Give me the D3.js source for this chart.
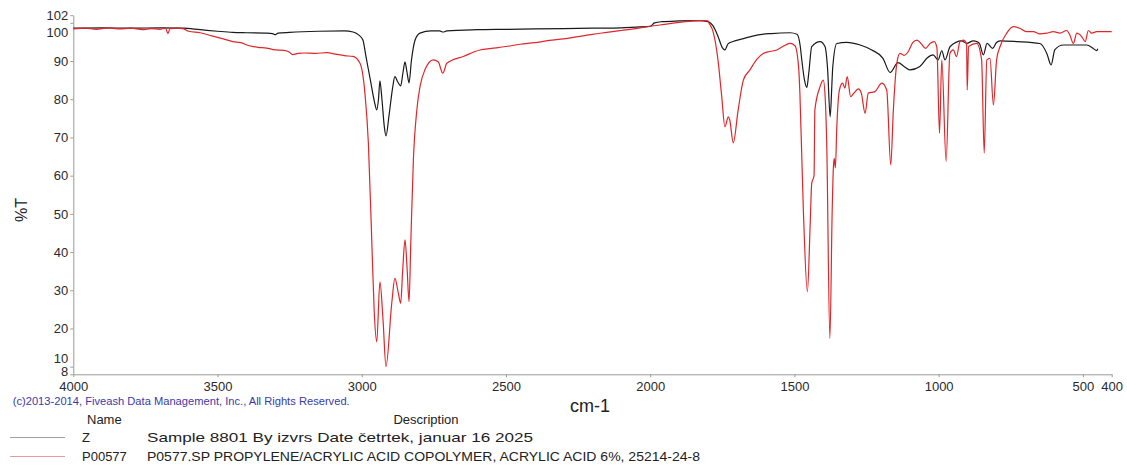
<!DOCTYPE html>
<html>
<head>
<meta charset="utf-8">
<script src="https://cdn.jsdelivr.net/npm/d3@7"></script>
<style>
  html, body { margin: 0; padding: 0; background: #fff; }
  svg { display: block; font-family: "Liberation Sans", Arial, sans-serif; }
</style>
</head>
<body>
<svg id="chart" width="1127" height="469"></svg>
<script>
// ---- data ----
const xTicks = [4000, 3500, 3000, 2500, 2000, 1500, 1000, 500, 400];
const yTicks = [102, 100, 90, 80, 70, 60, 50, 40, 30, 20, 10, 8];

const seriesNames = ["Z", "P00577"];
const seriesDescriptions = [
  "Sample 8801 By izvrs Date četrtek, januar 16 2025",
  "P0577.SP PROPYLENE/ACRYLIC ACID COPOLYMER, ACRYLIC ACID 6%, 25214-24-8"
];
const copyrightText = "(c)2013-2014, Fiveash Data Management, Inc., All Rights Reserved.";

// Z (sample) spectrum: wavenumber (cm-1) and %T
const zWavenumber = [4000, 3900, 3800, 3700, 3620, 3560, 3500, 3447, 3400, 3330, 3310, 3301, 3290, 3250, 3150, 3060, 3030, 3010,
  2996, 2985, 2970, 2955, 2948, 2942, 2937, 2930, 2922, 2916, 2905, 2893, 2885, 2875, 2865, 2857, 2850, 2843, 2836, 2828, 2815, 2798,
  2760, 2730, 2718, 2705, 2600, 2500, 2400, 2300, 2200, 2100, 2050, 2000, 1985, 1960, 1900, 1830, 1800, 1782, 1765, 1750, 1741, 1730,
  1713, 1680, 1630, 1580, 1515, 1491, 1480, 1474, 1465, 1457, 1450, 1440, 1411, 1394, 1385, 1376, 1370, 1367, 1353, 1319, 1272, 1232,
  1193, 1168, 1141, 1120, 1100, 1065, 1040, 1019, 1002, 989, 978, 960, 920, 903, 880, 868, 858, 845, 832, 813, 800, 787, 729, 649,
  625, 610, 597, 568, 533, 487, 464, 452, 448];
const zTransmittance = [98.6, 98.7, 98.6, 98.7, 98.6, 98.2, 97.8, 97.5, 97.4, 97.3, 97.2, 96.9, 97.3, 97.5, 97.8, 97.9, 97.6, 96.8,
  95.5, 91, 85, 79, 77.2, 80, 84.8, 80, 73, 70.4, 76, 83, 85.9, 84.5, 83.5, 87, 89.8, 87, 84.3, 90, 95.5, 97.3,
  97.9, 97.9, 97.6, 97.9, 98.2, 98.3, 98.4, 98.5, 98.6, 98.7, 98.9, 99.1, 100.0, 100.3, 100.5, 100.6, 100.3, 99.2, 96.5, 93.5, 92.9, 94.5,
  95.1, 95.8, 96.8, 97.2, 97.4, 97.0, 94, 90, 85, 83.1, 87, 93.8, 95.1, 93.8, 88, 75.4, 84, 88.5, 94.6, 94.9, 94.2, 92.9,
  90.7, 87, 89.6, 88.6, 87.7, 88.6, 90.8, 91.6, 90.3, 92.7, 90.3, 93.8, 95.3, 94.6, 95.3, 95.1, 94.5, 91.6, 94.6, 93.3, 94.8, 95.3, 95.1, 94.6,
  92, 89, 93, 94.2, 94.2, 94.2, 93.3, 92.7, 93.2];

// P00577 (library) spectrum: wavenumber (cm-1) and %T
const pWavenumber = [4000, 3960, 3920, 3880, 3840, 3800, 3760, 3730, 3700, 3680, 3672, 3665, 3640, 3620, 3600, 3560, 3520, 3480,
  3447, 3420, 3390, 3360, 3330, 3300, 3270, 3250, 3240, 3220, 3200, 3160, 3120, 3090, 3060, 3030, 3006, 2989, 2977, 2965, 2957,
  2948, 2937, 2926, 2916, 2896, 2885, 2873, 2865, 2858, 2850, 2843, 2836, 2830, 2821, 2809, 2798, 2781, 2752, 2735, 2719, 2705,
  2648, 2590, 2550, 2500, 2450, 2400, 2350, 2300, 2250, 2200, 2150, 2100, 2050, 2000, 1950, 1900, 1850, 1820, 1800, 1795, 1782,
  1765, 1752, 1741, 1729, 1724, 1712, 1695, 1677, 1654, 1630, 1608, 1585, 1561, 1540, 1515, 1498, 1485, 1481, 1469, 1455, 1445,
  1440, 1432, 1429, 1411, 1400, 1393, 1388, 1377, 1369, 1365, 1362, 1358, 1353, 1344, 1333, 1325, 1317, 1305, 1295, 1278, 1268,
  1255, 1244, 1221, 1197, 1180, 1166, 1157, 1145, 1134, 1120, 1105, 1090, 1075, 1060, 1045, 1030, 1015, 1006, 997, 989, 974, 961,
  949, 938, 926, 914, 903, 901, 896, 868, 851, 842, 833, 822, 810, 799, 787, 764, 741, 719, 696, 672, 649, 625, 602, 579, 556, 545,
  533, 521, 504, 492, 481, 469, 452, 400];
const pTransmittance = [98.4, 98.6, 98.3, 98.7, 98.4, 98.6, 98.2, 98.5, 98.3, 98.6, 97.2, 98.5, 98.6, 98.5, 97.8, 97.4, 96.6, 95.8,
  95.1, 94.8, 94.0, 93.6, 93.4, 92.9, 92.8, 92.3, 91.7, 92.0, 92.1, 92.0, 92.2, 91.8, 91.4, 91.2, 89.4, 81.6, 68.5, 42.4, 24.9,
  16.5, 32.2, 22, 10, 26.6, 33.1, 29.2, 26.6, 35.3, 43.2, 36, 27, 42.3, 64.1, 77.2, 83.3, 87.7, 90.3, 89.8, 86.8, 89.4,
  91.2, 92.9, 93.3, 93.8, 94.4, 94.8, 95.4, 95.8, 96.4, 97.0, 97.5, 98.0, 98.5, 99.1, 99.6, 100.1, 100.5, 100.6, 100.5, 99.8, 97.7,
  90.3, 80.7, 72.8, 75.4, 74.5, 68.6, 77.2, 85, 87.7, 90.5, 92, 92.5, 92.9, 93.8, 94.6, 94, 88, 81.6, 51, 29.6, 48,
  58, 60, 77.2, 83.3, 85, 80, 68.5, 17.4, 51, 62, 64.5, 62, 72.8, 82.4, 84.2, 82.9, 85.9, 80.7, 81.5, 82.7, 81.6,
  76.3, 81.6, 82, 84.2, 82.4, 62.8, 77.2, 89.4, 92, 91.5, 92.5, 94.8, 95.5, 94.5, 93.3, 94.6, 95.1, 93.5, 71.1, 90.3, 63.7, 92,
  92.9, 91.2, 95.1, 95.5, 94.5, 82.4, 93.8, 94.6, 90.3, 65.9, 90.3, 90.7, 78.5, 90.3, 93.8, 97.3, 99, 98.6, 97.7, 97.7, 97.1, 97.3, 97.7, 97.3, 98, 96.8,
  94.6, 97.3, 96.4, 95.1, 98, 97.3, 97.7, 97.7];

const zColor = "#1a1a1a";
const pColor = "#e0262a";

// ---- chart ----
const svg = d3.select("#chart");
const x = d3.scaleLinear().domain([4000, 400]).range([73.3, 1111.7]);
const y = d3.scaleLinear().domain([8, 102]).range([374.3, 15.2]);

const axisColor = "#9a9a9a";

// Y axis
const yAxis = svg.append("g")
  .attr("transform", `translate(${x(4000)},0)`)
  .call(d3.axisLeft(y).tickValues(yTicks).tickSize(3).tickPadding(2).tickSizeOuter(0).tickFormat(d3.format("d")));
yAxis.select(".domain").attr("stroke", axisColor);
yAxis.selectAll(".tick line").attr("stroke", axisColor);
yAxis.selectAll(".tick text").attr("fill", "#2a2a2a").style("font-size", "13px")
  .attr("dy", d => d === 100 ? "1.05em" : d === 10 ? "-0.3em" : d === 8 ? "0.1em" : "0.32em");

// X axis
const xAxis = svg.append("g")
  .attr("transform", `translate(0,${y(8)})`)
  .call(d3.axisBottom(x).tickValues(xTicks).tickSize(3).tickPadding(4).tickSizeOuter(0).tickFormat(d3.format("d")));
xAxis.select(".domain").attr("stroke", axisColor);
xAxis.selectAll(".tick line").attr("stroke", axisColor);
xAxis.selectAll(".tick text").attr("fill", "#2a2a2a").style("font-size", "13px");

// Axis titles
svg.append("text")
  .attr("transform", `translate(27,210) rotate(-90)`)
  .attr("text-anchor", "middle")
  .style("font-size", "16px").attr("fill", "#222")
  .text("%T");
svg.append("text")
  .attr("x", 590).attr("y", 412)
  .attr("text-anchor", "middle")
  .style("font-size", "18px").attr("fill", "#222")
  .text("cm-1");

// Spectra
const line = d3.line().x(d => x(d[0])).y(d => y(d[1])).curve(d3.curveMonotoneX);
const zData = zWavenumber.map((w, i) => [w, zTransmittance[i]]);
const pData = pWavenumber.map((w, i) => [w, pTransmittance[i]]);

svg.append("path").datum(zData).attr("d", line)
  .attr("fill", "none").attr("stroke", zColor).attr("stroke-width", 1.2).attr("stroke-linejoin", "round");
svg.append("path").datum(pData).attr("d", line)
  .attr("fill", "none").attr("stroke", pColor).attr("stroke-width", 1.2).attr("stroke-linejoin", "round");

// Copyright
svg.append("text")
  .attr("x", 12.7).attr("y", 405)
  .style("font-size", "11px").attr("fill", "#3a3aa8")
  .attr("textLength", 337).attr("lengthAdjust", "spacingAndGlyphs")
  .text(copyrightText);

// Legend table
svg.append("text").attr("x", 87).attr("y", 424).style("font-size", "13px").attr("fill", "#222").text("Name");
svg.append("text").attr("x", 426).attr("y", 424).attr("text-anchor", "middle").style("font-size", "13px").attr("fill", "#222").text("Description");

const legendColors = ["#a0a0a0", "#e89a9c"];
const rowY = [442, 461];
const descWidths = [386, 553];
seriesNames.forEach((name, i) => {
  svg.append("line").attr("x1", 10).attr("x2", 65).attr("y1", rowY[i] - 4.5).attr("y2", rowY[i] - 4.5)
    .attr("stroke", legendColors[i]).attr("stroke-width", 1.2);
  svg.append("text").attr("x", 82).attr("y", rowY[i]).style("font-size", "13px").attr("fill", "#222").text(name);
  svg.append("text").attr("x", 147).attr("y", rowY[i]).style("font-size", "13px").attr("fill", "#222")
    .attr("textLength", descWidths[i]).attr("lengthAdjust", "spacingAndGlyphs")
    .text(seriesDescriptions[i]);
});
</script>
</body>
</html>
